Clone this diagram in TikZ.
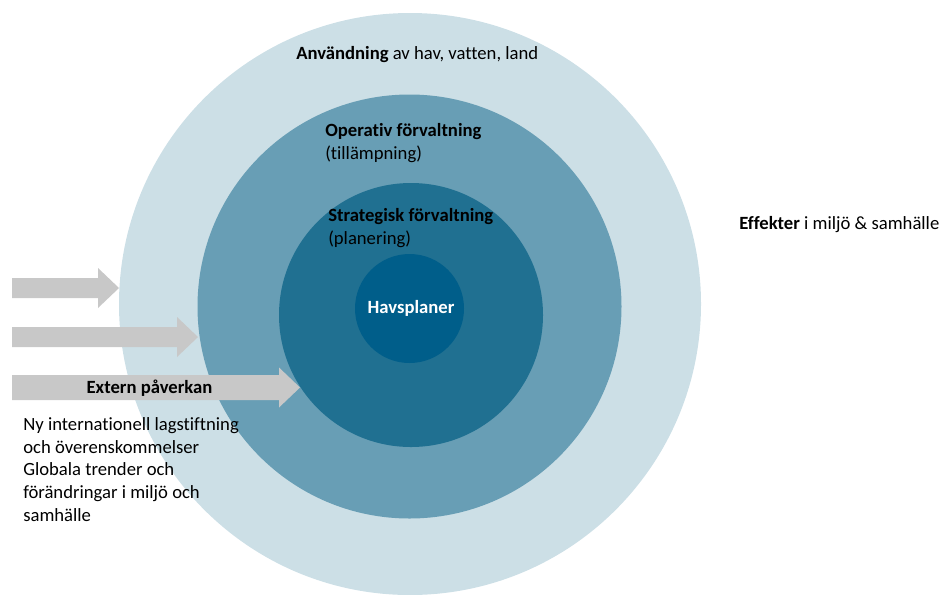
\documentclass[tikz,border=0pt]{standalone}
\usepackage{fontspec}
\setmainfont[Ligatures=NoCommon]{Carlito}
\usetikzlibrary{positioning}

\definecolor{bruk}{RGB}{204,223,230}
\definecolor{operativ}{RGB}{104,158,181}
\definecolor{strategisk}{RGB}{32,112,145}
\definecolor{havsplan}{RGB}{0,94,138}
\definecolor{pil}{RGB}{200,200,200}

\tikzset{
  etikett/.style={inner sep=0pt, anchor=base west, align=left,
    font=\fontsize{14}{17.25}\selectfont},
}

\begin{document}
\begin{tikzpicture}[x=0.75pt, y=-0.75pt]

  %% Background
  \useasboundingbox (0,0) rectangle (941,594);

  % Cirklarna
  \coordinate (Bruk) at (410,304);
  \coordinate (Oper) at (409.5,306.5);
  \coordinate (Strat) at (411,315);
  \coordinate (Plan) at (409.5,308.5);
  \fill[bruk] (Bruk) circle (291);
  \fill[operativ] (Oper) circle (212);
  \fill[strategisk] (Strat) circle (132);
  \fill[havsplan] (Plan) circle (54.5);

  % Pilar (extern påverkan)
  \foreach \yc/\bh/\hx in {288/10/98, 337/10/177, 387.5/12.5/279}
    \fill[pil] (12,{\yc-\bh}) -- (\hx,{\yc-\bh}) -- (\hx,{\yc-20})
      -- ({\hx+21},\yc) -- (\hx,{\yc+20}) -- (\hx,{\yc+\bh})
      -- (12,{\yc+\bh}) -- cycle;

  % Texter (base = sista radens baslinje)
  \node[etikett] (anv) at (296,59) {\textbf{Användning} av hav, vatten, land};
  \node[etikett] (opf) at (325,159) {\textbf{Operativ förvaltning}\\(tillämpning)};
  \node[etikett] (stf) at (328,244) {\textbf{Strategisk förvaltning}\\(planering)};
  \node[etikett, anchor=base, white] (hav) at (411,313) {\textbf{Havsplaner}};
  \node[etikett] (eff) at (739,229) {\textbf{Effekter} i miljö \& samhälle};
  \node[etikett, anchor=base] (ext) at (149.5,393) {\textbf{Extern påverkan}};
  \node[etikett, font=\fontsize{14}{16.9}\selectfont] (lag) at (23,521)
    {Ny internationell lagstiftning\\och överenskommelser\\Globala trender och\\förändringar i miljö och\\samhälle};

\end{tikzpicture}
\end{document}
